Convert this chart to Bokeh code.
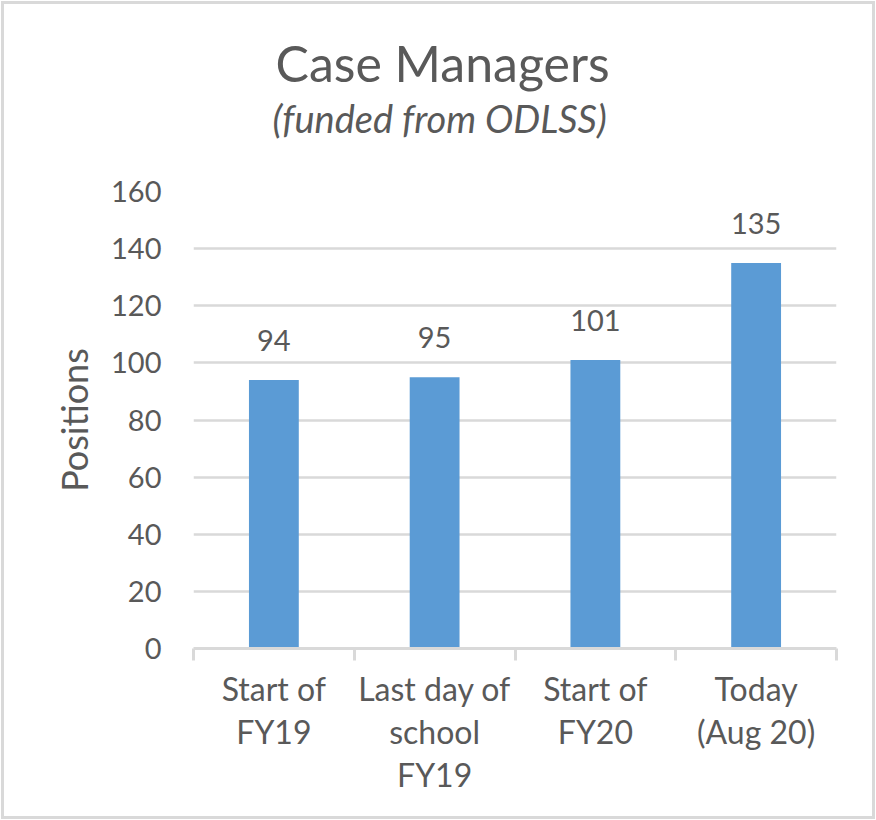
from bokeh.plotting import figure
from bokeh.layouts import column
from bokeh.models import (ColumnDataSource, Range1d, FixedTicker, LabelSet, Title)
from bokeh.core.properties import value
from bokeh.embed import file_html
from bokeh.resources import INLINE

# ---- data ----
categories = ["Start of\nFY19", "Last day of\nschool\nFY19", "Start of\nFY20", "Today\n(Aug 20)"]
positions = [94, 95, 101, 135]
y_ticks = [0, 20, 40, 60, 80, 100, 120, 140, 160]
title_text = "Case Managers"
subtitle_text = "(funded from ODLSS)"
y_label = "Positions"

FONT = "Lato"
TXT = "#595959"
GRID = "#D9D9D9"
BAR = "#5B9BD5"

centers = [i + 0.5 for i in range(len(categories))]
src = ColumnDataSource(dict(x=centers, top=positions, lab=[str(v) for v in positions]))

p = figure(width=868, height=812, output_backend="svg", toolbar_location=None,
           title_location=None,
           x_range=Range1d(0, len(categories)), y_range=Range1d(0, 160),
           min_border_left=189, min_border_right=36, min_border_top=187, min_border_bottom=168)
p.outline_line_color = None
p.background_fill_color = "white"
p.border_fill_color = "white"

p.vbar(x="x", top="top", width=0.31, source=src, fill_color=BAR, line_color=None)

p.add_layout(LabelSet(x="x", y="top", text="lab", source=src, y_offset=29,
                      text_align="center", text_baseline="alphabetic",
                      text_font=value(FONT), text_font_size=value("29px"), text_color=TXT))

# x axis
xa = p.xaxis[0]
xa.ticker = FixedTicker(ticks=centers, minor_ticks=list(range(len(categories) + 1)))
xa.major_label_overrides = {c: lab for c, lab in zip(centers, categories)}
xa.major_tick_line_color = None
xa.major_tick_in = 0
xa.major_tick_out = 0
xa.minor_tick_line_color = GRID
xa.minor_tick_line_width = 3
xa.minor_tick_in = 0
xa.minor_tick_out = 12
xa.axis_line_color = GRID
xa.axis_line_width = 3
xa.major_label_text_font = FONT
xa.major_label_text_font_size = "32px"
xa.major_label_text_color = TXT
xa.major_label_text_line_height = 1.11
xa.major_label_standoff = 8

# y axis
ya = p.yaxis[0]
ya.ticker = FixedTicker(ticks=y_ticks)
ya.axis_line_color = None
ya.major_tick_line_color = None
ya.minor_tick_line_color = None
ya.major_tick_in = 0
ya.major_tick_out = 0
ya.minor_tick_in = 0
ya.minor_tick_out = 0
ya.major_label_text_font = FONT
ya.major_label_text_font_size = "29px"
ya.major_label_text_color = TXT
ya.major_label_standoff = 32
ya.axis_label = y_label
ya.axis_label_text_font = FONT
ya.axis_label_text_font_size = "36px"
ya.axis_label_text_font_style = "normal"
ya.axis_label_text_color = TXT
ya.axis_label_standoff = 12

p.xgrid.grid_line_color = None
p.ygrid.grid_line_color = GRID
p.ygrid.grid_line_width = 2.5

# titles stacked above the frame: spacer, subtitle, main title
p.add_layout(Title(text=" ", standoff=48, text_font=FONT, text_font_size="1px",
                   text_color="white"), "above")
p.add_layout(Title(text=subtitle_text, align="left", offset=79, standoff=0,
                   text_font=FONT, text_font_size="38px", text_font_style="italic",
                   text_color=TXT), "above")
p.add_layout(Title(text=title_text, align="left", offset=82, standoff=0,
                   text_font=FONT, text_font_size="50px", text_font_style="normal",
                   text_color=TXT), "above")

layout = column(p, styles={"border": "3px solid #D9D9D9", "margin": "1px"})

open("out.html", "w").write(file_html(layout, INLINE))
